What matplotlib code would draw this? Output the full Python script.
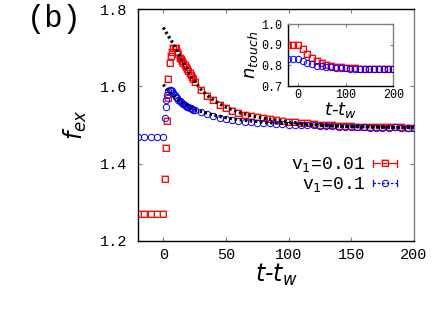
import matplotlib
matplotlib.use("Agg")
import matplotlib.pyplot as plt
from matplotlib.legend_handler import HandlerBase
from matplotlib.lines import Line2D

# ---------------- data ----------------
t_red = [-20, -15, -10, -5, 0, 1, 2, 3, 3.5, 4, 5, 6, 7, 8, 9, 10, 11, 12, 13, 14, 15, 16, 17, 18,
         19, 20, 21, 22, 23, 24, 25, 30, 35, 40, 45, 50, 55, 60, 65, 70, 75, 80, 85, 90, 95, 100,
         105, 110, 115, 120, 125, 130, 135, 140, 145, 150, 155, 160, 165, 170, 175, 180, 185,
         190, 195, 200]
f_red = [1.27, 1.27, 1.27, 1.27, 1.27, 1.36, 1.44, 1.51, 1.57, 1.62, 1.66, 1.68, 1.69, 1.70, 1.70,
         1.70, 1.69, 1.685, 1.675, 1.67, 1.665, 1.66, 1.655, 1.65, 1.645, 1.64, 1.635, 1.63,
         1.625, 1.62, 1.612, 1.592, 1.576, 1.564, 1.553, 1.544, 1.536, 1.531, 1.527, 1.523,
         1.520, 1.518, 1.515, 1.513, 1.511, 1.509, 1.507, 1.505, 1.504, 1.502, 1.501, 1.500,
         1.499, 1.498, 1.497, 1.497, 1.496, 1.495, 1.495, 1.494, 1.494, 1.495, 1.494, 1.494,
         1.493, 1.493]

t_blue = [-20, -15, -10, -5, 0, 1, 2, 2.5, 3, 4, 5, 6, 7, 8, 9, 10, 11, 12, 13, 14, 15, 16, 17, 18,
          19, 20, 21, 22, 23, 24, 25, 30, 35, 40, 45, 50, 55, 60, 65, 70, 75, 80, 85, 90, 95,
          100, 105, 110, 115, 120, 125, 130, 135, 140, 145, 150, 155, 160, 165, 170, 175, 180,
          185, 190, 195, 200]
f_blue = [1.47, 1.47, 1.47, 1.47, 1.47, 1.517, 1.546, 1.565, 1.578, 1.587, 1.591, 1.590, 1.587,
          1.583, 1.578, 1.574, 1.570, 1.566, 1.563, 1.560, 1.557, 1.555, 1.552, 1.550, 1.548,
          1.546, 1.544, 1.543, 1.541, 1.540, 1.539, 1.533, 1.528, 1.523, 1.518, 1.515, 1.512,
          1.510, 1.508, 1.507, 1.506, 1.505, 1.504, 1.503, 1.502, 1.501, 1.500, 1.500, 1.499,
          1.499, 1.498, 1.497, 1.497, 1.496, 1.496, 1.495, 1.495, 1.494, 1.493, 1.492, 1.493,
          1.493, 1.494, 1.493, 1.493, 1.492]

# fitted curves
t_fit_red = [0, 2, 4, 6, 8, 10, 12, 14, 16, 18, 20, 22, 25, 30, 35, 40, 45, 50, 60, 70, 80, 90,
             100, 120, 140, 160, 180, 200]
f_fit_red = [1.753, 1.742, 1.731, 1.721, 1.711, 1.699, 1.686, 1.673, 1.661, 1.649, 1.637, 1.627,
             1.613, 1.593, 1.577, 1.565, 1.555, 1.546, 1.533, 1.524, 1.518, 1.513, 1.508, 1.501,
             1.497, 1.495, 1.494, 1.493]
t_fit_blue = [0, 2, 4, 6, 8, 10, 12, 14, 17, 20, 25, 30, 40, 50, 60, 80, 100, 120, 150, 200]
f_fit_blue = [1.605, 1.597, 1.589, 1.582, 1.576, 1.571, 1.566, 1.561, 1.553, 1.548, 1.540, 1.535,
              1.526, 1.519, 1.514, 1.507, 1.503, 1.500, 1.496, 1.493]

t_in = [-20, -10, 0, 10, 20, 30, 40, 50, 60, 70, 80, 90, 100, 110, 120, 130, 140, 150, 160, 170,
        180, 190, 200]
n_red = [0.90, 0.90, 0.90, 0.88, 0.855, 0.835, 0.82, 0.81, 0.80, 0.797, 0.793, 0.79, 0.788, 0.787,
         0.786, 0.785, 0.784, 0.784, 0.783, 0.783, 0.782, 0.782, 0.782]
n_blue = [0.833, 0.833, 0.832, 0.823, 0.812, 0.805, 0.799, 0.795, 0.792, 0.790, 0.788, 0.787,
          0.786, 0.785, 0.785, 0.784, 0.784, 0.783, 0.783, 0.782, 0.782, 0.782, 0.781]

xticks_main = [0, 50, 100, 150, 200]
yticks_main = [1.2, 1.4, 1.6, 1.8]
xticks_in = [0, 100, 200]
yticks_in = [0.7, 0.8, 0.9, 1.0]
labels = ['v$_1$=0.01', 'v$_1$=0.1']

# ---------------- style ----------------
plt.rcParams['mathtext.fontset'] = 'dejavusans'
MONO = 'Liberation Mono'
RED = '#ff0000'
PINK = '#ffa0a0'
BLUE = '#0000ff'
GRAY = '#808080'
MS = 4.6

fig = plt.figure(figsize=(4.36, 3.12), dpi=100)
ax = fig.add_axes([0.317, 0.2285, 0.632, 0.7415])


def style_axes(a, fs):
    for s in ['left', 'bottom', 'top']:
        a.spines[s].set_color('black')
    a.spines['right'].set_color(GRAY)
    for s in a.spines.values():
        s.set_linewidth(1.0)
    a.tick_params(direction='in', top=True, right=True, length=3, width=0.8,
                  labelsize=fs, color=GRAY)
    for lab in a.get_xticklabels() + a.get_yticklabels():
        lab.set_fontfamily(MONO)


# main data
ax.plot(t_red, f_red, ls='none', marker='s', ms=MS, mfc='none', mec=PINK, mew=1.4, zorder=2)
ax.plot(t_red, f_red, ls='none', marker='s', ms=MS, mfc='none', mec=RED, mew=0.7, zorder=3)
ax.plot(t_blue, f_blue, ls='none', marker='o', ms=MS, mfc='none', mec=BLUE, mew=0.7, zorder=3)
ax.plot(t_fit_red, f_fit_red, color='black', lw=2.3, ls=(0, (0.75, 0.85)), zorder=10)
ax.plot(t_fit_blue, f_fit_blue, color='black', lw=2.3, ls=(0, (0.75, 0.85)), zorder=10)

ax.set_xlim(-20, 200)
ax.set_ylim(1.2, 1.8)
ax.set_xticks(xticks_main)
ax.set_yticks(yticks_main)
ax.set_xticklabels([str(v) for v in xticks_main])
ax.set_yticklabels(['%.1f' % v for v in yticks_main])
style_axes(ax, 11)
ax.tick_params(axis='x', pad=5)
ax.tick_params(axis='y', pad=8)
ax.set_xlabel('t-t$_w$', fontsize=17, style='italic', labelpad=0)
ax.set_ylabel('f$_{ex}$', fontsize=17, style='italic', labelpad=8)

fig.text(0.062, 0.912, '(b)', fontsize=22, fontfamily=MONO, ha='left', va='baseline')


# legend with gnuplot-like errorbar handles
class ErrHandler(HandlerBase):
    def __init__(self, color, marker, ls, pink):
        super().__init__()
        self.color, self.marker, self.ls, self.pink = color, marker, ls, pink

    def create_artists(self, legend, orig_handle, xdescent, ydescent, width, height,
                       fontsize, trans):
        y = height / 2 - ydescent
        arts = []
        arts.append(Line2D([0, width], [y, y], color=self.color, lw=0.9, ls=self.ls,
                           transform=trans))
        for xx in (0, width):
            arts.append(Line2D([xx, xx], [y - 2.5, y + 2.5], color=self.color, lw=0.9,
                               transform=trans))
        if self.pink:
            arts.append(Line2D([width / 2], [y], marker=self.marker, ms=MS, mfc='none',
                               mec=PINK, mew=1.4, transform=trans))
        arts.append(Line2D([width / 2], [y], marker=self.marker, ms=MS, mfc='none',
                           mec=self.color, mew=0.7, transform=trans))
        return arts


h1 = Line2D([], [])
h2 = Line2D([], [])
leg = ax.legend([h1, h2], labels, loc='upper right', bbox_to_anchor=(0.965, 0.40),
                frameon=False, markerfirst=False, handlelength=1.3, handletextpad=0.45,
                labelspacing=0.05, borderaxespad=0,
                prop={'family': MONO, 'size': 13},
                handler_map={h1: ErrHandler(RED, 's', '-', True),
                             h2: ErrHandler(BLUE, 'o', (0, (2, 1.5)), False)})

# inset
ai = fig.add_axes([0.661, 0.724, 0.241, 0.199])
ai.plot(t_in, n_red, ls='none', marker='s', ms=MS, mfc='none', mec=PINK, mew=1.4, zorder=2)
ai.plot(t_in, n_red, ls='none', marker='s', ms=MS, mfc='none', mec=RED, mew=0.7, zorder=3)
ai.plot(t_in, n_blue, ls='none', marker='o', ms=MS, mfc='none', mec=BLUE, mew=0.7, zorder=3)
ai.set_xlim(-20, 200)
ai.set_ylim(0.7, 1.0)
ai.set_xticks(xticks_in)
ai.set_yticks(yticks_in)
ai.set_xticklabels([str(v) for v in xticks_in])
ai.set_yticklabels(['%.1f' % v for v in yticks_in])
style_axes(ai, 8.5)
ai.spines['top'].set_color(GRAY)
ai.tick_params(axis='both', length=2.5, pad=2)
ai.tick_params(axis='y', pad=4)
ai.set_xlabel('t-t$_w$', fontsize=13, style='italic', labelpad=-1)
ai.set_ylabel('n$_{touch}$', fontsize=13, style='italic', labelpad=1)

fig.savefig('out.png', dpi=100)
